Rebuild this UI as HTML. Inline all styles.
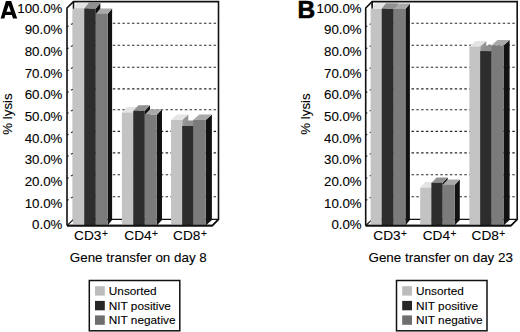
<!DOCTYPE html>
<html><head><meta charset="utf-8"><style>
html,body{margin:0;padding:0;background:#fff;width:520px;height:332px;overflow:hidden}
svg{display:block}
text{font-family:"Liberation Sans",sans-serif;fill:#000;stroke:#000;stroke-width:0.1px}
</style></head><body>
<svg width="520" height="332" viewBox="0 0 520 332">
<rect width="520" height="332" fill="#fff"/>
<line x1="73.50" y1="196.70" x2="218.50" y2="196.70" stroke="#2a2a2a" stroke-width="1.1" stroke-dasharray="2.5 2.3" stroke-dashoffset="-0.9"/>
<line x1="72.90" y1="197.00" x2="70.90" y2="198.00" stroke="#333" stroke-width="1.1"/>
<line x1="67.00" y1="200.10" x2="68.60" y2="199.70" stroke="#222" stroke-width="1.2"/>
<line x1="73.50" y1="174.80" x2="218.50" y2="174.80" stroke="#2a2a2a" stroke-width="1.1" stroke-dasharray="2.5 2.3" stroke-dashoffset="-0.9"/>
<line x1="72.90" y1="175.10" x2="70.90" y2="176.10" stroke="#333" stroke-width="1.1"/>
<line x1="67.00" y1="178.20" x2="68.60" y2="177.80" stroke="#222" stroke-width="1.2"/>
<line x1="73.50" y1="152.90" x2="218.50" y2="152.90" stroke="#2a2a2a" stroke-width="1.1" stroke-dasharray="2.5 2.3" stroke-dashoffset="-0.9"/>
<line x1="72.90" y1="153.20" x2="70.90" y2="154.20" stroke="#333" stroke-width="1.1"/>
<line x1="67.00" y1="156.30" x2="68.60" y2="155.90" stroke="#222" stroke-width="1.2"/>
<line x1="73.50" y1="131.40" x2="218.50" y2="131.40" stroke="#2a2a2a" stroke-width="1.1" stroke-dasharray="2.5 2.3" stroke-dashoffset="-0.9"/>
<line x1="72.90" y1="131.70" x2="70.90" y2="132.70" stroke="#333" stroke-width="1.1"/>
<line x1="67.00" y1="134.80" x2="68.60" y2="134.40" stroke="#222" stroke-width="1.2"/>
<line x1="73.50" y1="109.80" x2="218.50" y2="109.80" stroke="#2a2a2a" stroke-width="1.1" stroke-dasharray="2.5 2.3" stroke-dashoffset="-0.9"/>
<line x1="72.90" y1="110.10" x2="70.90" y2="111.10" stroke="#333" stroke-width="1.1"/>
<line x1="67.00" y1="113.20" x2="68.60" y2="112.80" stroke="#222" stroke-width="1.2"/>
<line x1="73.50" y1="88.90" x2="218.50" y2="88.90" stroke="#2a2a2a" stroke-width="1.1" stroke-dasharray="2.5 2.3" stroke-dashoffset="-0.9"/>
<line x1="72.90" y1="89.20" x2="70.90" y2="90.20" stroke="#333" stroke-width="1.1"/>
<line x1="67.00" y1="92.30" x2="68.60" y2="91.90" stroke="#222" stroke-width="1.2"/>
<line x1="73.50" y1="67.20" x2="218.50" y2="67.20" stroke="#2a2a2a" stroke-width="1.1" stroke-dasharray="2.5 2.3" stroke-dashoffset="-0.9"/>
<line x1="72.90" y1="67.50" x2="70.90" y2="68.50" stroke="#333" stroke-width="1.1"/>
<line x1="67.00" y1="70.60" x2="68.60" y2="70.20" stroke="#222" stroke-width="1.2"/>
<line x1="73.50" y1="45.20" x2="218.50" y2="45.20" stroke="#2a2a2a" stroke-width="1.1" stroke-dasharray="2.5 2.3" stroke-dashoffset="-0.9"/>
<line x1="72.90" y1="45.50" x2="70.90" y2="46.50" stroke="#333" stroke-width="1.1"/>
<line x1="67.00" y1="48.60" x2="68.60" y2="48.20" stroke="#222" stroke-width="1.2"/>
<line x1="73.50" y1="23.20" x2="218.50" y2="23.20" stroke="#2a2a2a" stroke-width="1.1" stroke-dasharray="2.5 2.3" stroke-dashoffset="-0.9"/>
<line x1="72.90" y1="23.50" x2="70.90" y2="24.50" stroke="#333" stroke-width="1.1"/>
<line x1="67.00" y1="26.60" x2="68.60" y2="26.20" stroke="#222" stroke-width="1.2"/>
<polyline points="67.0,225.6 67.0,8.0 73.5,1.6 218.5,1.6 218.5,219.4 212.3,225.6 67.0,225.6" stroke="#111" fill="none" stroke-linejoin="miter" stroke-width="1.6"/>
<line x1="73.5" y1="1.6" x2="73.5" y2="219.4" stroke="#111" stroke-width="1.3"/>
<line x1="73.5" y1="219.4" x2="218.5" y2="219.4" stroke="#111" stroke-width="1.3"/>
<line x1="67.0" y1="225.6" x2="73.5" y2="219.4" stroke="#111" stroke-width="1.3"/>
<polygon points="84.30,8.20 88.80,2.70 88.80,219.90 84.30,225.40" fill="#959595"/>
<polygon points="72.90,8.20 77.40,2.70 88.80,2.70 84.30,8.20" fill="#e4e4e4"/>
<rect x="72.90" y="8.20" width="11.40" height="217.20" fill="#c3c3c3"/>
<polygon points="95.80,8.60 100.30,3.10 100.30,219.90 95.80,225.40" fill="#0e0e0e"/>
<polygon points="84.30,8.60 88.80,3.10 100.30,3.10 95.80,8.60" fill="#909090"/>
<rect x="84.30" y="8.60" width="11.50" height="216.80" fill="#2d2d2d"/>
<polygon points="107.60,13.90 112.10,8.40 112.10,219.90 107.60,225.40" fill="#121212"/>
<polygon points="95.80,13.90 100.30,8.40 112.10,8.40 107.60,13.90" fill="#a9a9a9"/>
<rect x="95.80" y="13.90" width="11.80" height="211.50" fill="#7b7b7b"/>
<polygon points="133.30,112.50 138.50,107.00 138.50,219.90 133.30,225.40" fill="#959595"/>
<polygon points="121.90,112.50 127.10,107.00 138.50,107.00 133.30,112.50" fill="#e4e4e4"/>
<rect x="121.90" y="112.50" width="11.40" height="112.90" fill="#c3c3c3"/>
<polygon points="144.80,110.80 150.00,105.30 150.00,219.90 144.80,225.40" fill="#0e0e0e"/>
<polygon points="133.30,110.80 138.50,105.30 150.00,105.30 144.80,110.80" fill="#909090"/>
<rect x="133.30" y="110.80" width="11.50" height="114.60" fill="#2d2d2d"/>
<polygon points="156.80,114.80 162.00,109.30 162.00,219.90 156.80,225.40" fill="#121212"/>
<polygon points="144.80,114.80 150.00,109.30 162.00,109.30 156.80,114.80" fill="#a9a9a9"/>
<rect x="144.80" y="114.80" width="12.00" height="110.60" fill="#7b7b7b"/>
<polygon points="182.20,120.00 188.30,114.50 188.30,219.90 182.20,225.40" fill="#959595"/>
<polygon points="171.00,120.00 177.10,114.50 188.30,114.50 182.20,120.00" fill="#e4e4e4"/>
<rect x="171.00" y="120.00" width="11.20" height="105.40" fill="#c3c3c3"/>
<polygon points="193.10,126.00 199.20,120.50 199.20,219.90 193.10,225.40" fill="#0e0e0e"/>
<polygon points="182.20,126.00 188.30,120.50 199.20,120.50 193.10,126.00" fill="#909090"/>
<rect x="182.20" y="126.00" width="10.90" height="99.40" fill="#2d2d2d"/>
<polygon points="205.80,120.00 211.90,114.50 211.90,219.90 205.80,225.40" fill="#121212"/>
<polygon points="193.10,120.00 199.20,114.50 211.90,114.50 205.80,120.00" fill="#a9a9a9"/>
<rect x="193.10" y="120.00" width="12.70" height="105.40" fill="#7b7b7b"/>
<line x1="73.5" y1="1.6" x2="73.5" y2="8.6" stroke="#111" stroke-width="1.3"/>
<line x1="67.0" y1="225.6" x2="212.3" y2="225.6" stroke="#111" stroke-width="1.8"/>
<line x1="212.3" y1="225.6" x2="218.5" y2="219.4" stroke="#111" stroke-width="1.3"/>
<text x="62.40" y="229.20" text-anchor="end" font-size="13.3">0.0%</text>
<text x="62.40" y="207.55" text-anchor="end" font-size="13.3">10.0%</text>
<text x="62.40" y="185.90" text-anchor="end" font-size="13.3">20.0%</text>
<text x="62.40" y="164.25" text-anchor="end" font-size="13.3">30.0%</text>
<text x="62.40" y="142.60" text-anchor="end" font-size="13.3">40.0%</text>
<text x="62.40" y="120.95" text-anchor="end" font-size="13.3">50.0%</text>
<text x="62.40" y="99.30" text-anchor="end" font-size="13.3">60.0%</text>
<text x="62.40" y="77.65" text-anchor="end" font-size="13.3">70.0%</text>
<text x="62.40" y="56.00" text-anchor="end" font-size="13.3">80.0%</text>
<text x="62.40" y="34.35" text-anchor="end" font-size="13.3">90.0%</text>
<text x="62.40" y="12.70" text-anchor="end" font-size="13.3">100.0%</text>
<text transform="translate(11.50,114) rotate(-90)" text-anchor="middle" font-size="13.3">% lysis</text>
<text x="74.10" y="240" font-size="13.7">CD3<tspan font-size="10" dx="0.4" dy="-3.5">+</tspan></text>
<text x="124.30" y="240" font-size="13.7">CD4<tspan font-size="10" dx="0.4" dy="-3.5">+</tspan></text>
<text x="173.10" y="240" font-size="13.7">CD8<tspan font-size="10" dx="0.4" dy="-3.5">+</tspan></text>
<text x="69.80" y="262.0" font-size="13.4">Gene transfer on day 8</text>
<path fill-rule="evenodd" fill="#000" d="M0.6,18.5 L5.9,1.0 L11.2,1.0 L17.2,18.5 L13.0,18.5 L11.9,14.9 L5.3,14.9 L4.4,18.5 Z M6.4,11.8 L10.9,11.8 L8.7,5.2 Z"/>
<line x1="372.20" y1="196.70" x2="517.20" y2="196.70" stroke="#2a2a2a" stroke-width="1.1" stroke-dasharray="2.5 2.3" stroke-dashoffset="-0.9"/>
<line x1="371.60" y1="197.00" x2="369.60" y2="198.00" stroke="#333" stroke-width="1.1"/>
<line x1="365.70" y1="200.10" x2="367.30" y2="199.70" stroke="#222" stroke-width="1.2"/>
<line x1="372.20" y1="174.80" x2="517.20" y2="174.80" stroke="#2a2a2a" stroke-width="1.1" stroke-dasharray="2.5 2.3" stroke-dashoffset="-0.9"/>
<line x1="371.60" y1="175.10" x2="369.60" y2="176.10" stroke="#333" stroke-width="1.1"/>
<line x1="365.70" y1="178.20" x2="367.30" y2="177.80" stroke="#222" stroke-width="1.2"/>
<line x1="372.20" y1="152.90" x2="517.20" y2="152.90" stroke="#2a2a2a" stroke-width="1.1" stroke-dasharray="2.5 2.3" stroke-dashoffset="-0.9"/>
<line x1="371.60" y1="153.20" x2="369.60" y2="154.20" stroke="#333" stroke-width="1.1"/>
<line x1="365.70" y1="156.30" x2="367.30" y2="155.90" stroke="#222" stroke-width="1.2"/>
<line x1="372.20" y1="131.40" x2="517.20" y2="131.40" stroke="#2a2a2a" stroke-width="1.1" stroke-dasharray="2.5 2.3" stroke-dashoffset="-0.9"/>
<line x1="371.60" y1="131.70" x2="369.60" y2="132.70" stroke="#333" stroke-width="1.1"/>
<line x1="365.70" y1="134.80" x2="367.30" y2="134.40" stroke="#222" stroke-width="1.2"/>
<line x1="372.20" y1="109.80" x2="517.20" y2="109.80" stroke="#2a2a2a" stroke-width="1.1" stroke-dasharray="2.5 2.3" stroke-dashoffset="-0.9"/>
<line x1="371.60" y1="110.10" x2="369.60" y2="111.10" stroke="#333" stroke-width="1.1"/>
<line x1="365.70" y1="113.20" x2="367.30" y2="112.80" stroke="#222" stroke-width="1.2"/>
<line x1="372.20" y1="88.90" x2="517.20" y2="88.90" stroke="#2a2a2a" stroke-width="1.1" stroke-dasharray="2.5 2.3" stroke-dashoffset="-0.9"/>
<line x1="371.60" y1="89.20" x2="369.60" y2="90.20" stroke="#333" stroke-width="1.1"/>
<line x1="365.70" y1="92.30" x2="367.30" y2="91.90" stroke="#222" stroke-width="1.2"/>
<line x1="372.20" y1="67.20" x2="517.20" y2="67.20" stroke="#2a2a2a" stroke-width="1.1" stroke-dasharray="2.5 2.3" stroke-dashoffset="-0.9"/>
<line x1="371.60" y1="67.50" x2="369.60" y2="68.50" stroke="#333" stroke-width="1.1"/>
<line x1="365.70" y1="70.60" x2="367.30" y2="70.20" stroke="#222" stroke-width="1.2"/>
<line x1="372.20" y1="45.20" x2="517.20" y2="45.20" stroke="#2a2a2a" stroke-width="1.1" stroke-dasharray="2.5 2.3" stroke-dashoffset="-0.9"/>
<line x1="371.60" y1="45.50" x2="369.60" y2="46.50" stroke="#333" stroke-width="1.1"/>
<line x1="365.70" y1="48.60" x2="367.30" y2="48.20" stroke="#222" stroke-width="1.2"/>
<line x1="372.20" y1="23.20" x2="517.20" y2="23.20" stroke="#2a2a2a" stroke-width="1.1" stroke-dasharray="2.5 2.3" stroke-dashoffset="-0.9"/>
<line x1="371.60" y1="23.50" x2="369.60" y2="24.50" stroke="#333" stroke-width="1.1"/>
<line x1="365.70" y1="26.60" x2="367.30" y2="26.20" stroke="#222" stroke-width="1.2"/>
<polyline points="365.7,225.6 365.7,8.0 372.2,1.6 517.2,1.6 517.2,219.4 511.0,225.6 365.7,225.6" stroke="#111" fill="none" stroke-linejoin="miter" stroke-width="1.6"/>
<line x1="372.2" y1="1.6" x2="372.2" y2="219.4" stroke="#111" stroke-width="1.3"/>
<line x1="372.2" y1="219.4" x2="517.2" y2="219.4" stroke="#111" stroke-width="1.3"/>
<line x1="365.7" y1="225.6" x2="372.2" y2="219.4" stroke="#111" stroke-width="1.3"/>
<polygon points="381.70,8.80 386.20,3.30 386.20,219.90 381.70,225.40" fill="#959595"/>
<polygon points="370.60,8.80 375.10,3.30 386.20,3.30 381.70,8.80" fill="#e4e4e4"/>
<rect x="370.60" y="8.80" width="11.10" height="216.60" fill="#c3c3c3"/>
<polygon points="393.40,8.80 397.90,3.30 397.90,219.90 393.40,225.40" fill="#0e0e0e"/>
<polygon points="381.70,8.80 386.20,3.30 397.90,3.30 393.40,8.80" fill="#909090"/>
<rect x="381.70" y="8.80" width="11.70" height="216.60" fill="#2d2d2d"/>
<polygon points="405.40,9.00 409.90,3.50 409.90,219.90 405.40,225.40" fill="#121212"/>
<polygon points="393.40,9.00 397.90,3.50 409.90,3.50 405.40,9.00" fill="#a9a9a9"/>
<rect x="393.40" y="9.00" width="12.00" height="216.40" fill="#7b7b7b"/>
<polygon points="431.40,187.60 436.60,182.10 436.60,219.90 431.40,225.40" fill="#959595"/>
<polygon points="420.20,187.60 425.40,182.10 436.60,182.10 431.40,187.60" fill="#e4e4e4"/>
<rect x="420.20" y="187.60" width="11.20" height="37.80" fill="#c3c3c3"/>
<polygon points="442.50,182.90 447.70,177.40 447.70,219.90 442.50,225.40" fill="#0e0e0e"/>
<polygon points="431.40,182.90 436.60,177.40 447.70,177.40 442.50,182.90" fill="#909090"/>
<rect x="431.40" y="182.90" width="11.10" height="42.50" fill="#2d2d2d"/>
<polygon points="454.60,184.90 459.80,179.40 459.80,219.90 454.60,225.40" fill="#121212"/>
<polygon points="442.50,184.90 447.70,179.40 459.80,179.40 454.60,184.90" fill="#a9a9a9"/>
<rect x="442.50" y="184.90" width="12.10" height="40.50" fill="#7b7b7b"/>
<polygon points="480.20,46.50 486.30,41.00 486.30,219.90 480.20,225.40" fill="#959595"/>
<polygon points="469.40,46.50 475.50,41.00 486.30,41.00 480.20,46.50" fill="#e4e4e4"/>
<rect x="469.40" y="46.50" width="10.80" height="178.90" fill="#c3c3c3"/>
<polygon points="491.40,51.10 497.50,45.60 497.50,219.90 491.40,225.40" fill="#0e0e0e"/>
<polygon points="480.20,51.10 486.30,45.60 497.50,45.60 491.40,51.10" fill="#909090"/>
<rect x="480.20" y="51.10" width="11.20" height="174.30" fill="#2d2d2d"/>
<polygon points="503.50,45.60 509.60,40.10 509.60,219.90 503.50,225.40" fill="#121212"/>
<polygon points="491.40,45.60 497.50,40.10 509.60,40.10 503.50,45.60" fill="#a9a9a9"/>
<rect x="491.40" y="45.60" width="12.10" height="179.80" fill="#7b7b7b"/>
<line x1="372.2" y1="1.6" x2="372.2" y2="8.6" stroke="#111" stroke-width="1.3"/>
<line x1="365.7" y1="225.6" x2="511.0" y2="225.6" stroke="#111" stroke-width="1.8"/>
<line x1="511.0" y1="225.6" x2="517.2" y2="219.4" stroke="#111" stroke-width="1.3"/>
<text x="361.70" y="229.20" text-anchor="end" font-size="13.3">0.0%</text>
<text x="361.70" y="207.55" text-anchor="end" font-size="13.3">10.0%</text>
<text x="361.70" y="185.90" text-anchor="end" font-size="13.3">20.0%</text>
<text x="361.70" y="164.25" text-anchor="end" font-size="13.3">30.0%</text>
<text x="361.70" y="142.60" text-anchor="end" font-size="13.3">40.0%</text>
<text x="361.70" y="120.95" text-anchor="end" font-size="13.3">50.0%</text>
<text x="361.70" y="99.30" text-anchor="end" font-size="13.3">60.0%</text>
<text x="361.70" y="77.65" text-anchor="end" font-size="13.3">70.0%</text>
<text x="361.70" y="56.00" text-anchor="end" font-size="13.3">80.0%</text>
<text x="361.70" y="34.35" text-anchor="end" font-size="13.3">90.0%</text>
<text x="361.70" y="12.70" text-anchor="end" font-size="13.3">100.0%</text>
<text transform="translate(310.20,114) rotate(-90)" text-anchor="middle" font-size="13.3">% lysis</text>
<text x="373.30" y="240" font-size="13.7">CD3<tspan font-size="10" dx="0.4" dy="-3.5">+</tspan></text>
<text x="422.70" y="240" font-size="13.7">CD4<tspan font-size="10" dx="0.4" dy="-3.5">+</tspan></text>
<text x="471.50" y="240" font-size="13.7">CD8<tspan font-size="10" dx="0.4" dy="-3.5">+</tspan></text>
<text x="368.50" y="262.0" font-size="13.4">Gene transfer on day 23</text>
<text transform="translate(297.50,18.10) scale(1,1)" font-size="24.5" font-weight="bold" style="stroke-width:0.6px">B</text>
<rect x="89.3" y="280.5" width="90.5" height="50.3" fill="#fff" stroke="#111" stroke-width="1.5"/>
<rect x="95" y="286.2" width="9.8" height="9.4" fill="#bcbcbc"/>
<text x="108.8" y="295.10" font-size="11.8">Unsorted</text>
<rect x="95" y="300.9" width="9.8" height="9.4" fill="#262626"/>
<text x="108.8" y="309.80" font-size="11.8">NIT positive</text>
<rect x="95" y="315.4" width="9.8" height="9.4" fill="#6e6e6e"/>
<text x="108.8" y="324.30" font-size="11.8">NIT negative</text>
<rect x="396.5" y="280.5" width="90.5" height="50.3" fill="#fff" stroke="#111" stroke-width="1.5"/>
<rect x="402.2" y="286.2" width="9.8" height="9.4" fill="#bcbcbc"/>
<text x="416.0" y="295.10" font-size="11.8">Unsorted</text>
<rect x="402.2" y="300.9" width="9.8" height="9.4" fill="#262626"/>
<text x="416.0" y="309.80" font-size="11.8">NIT positive</text>
<rect x="402.2" y="315.4" width="9.8" height="9.4" fill="#6e6e6e"/>
<text x="416.0" y="324.30" font-size="11.8">NIT negative</text>
</svg>
</body></html>
